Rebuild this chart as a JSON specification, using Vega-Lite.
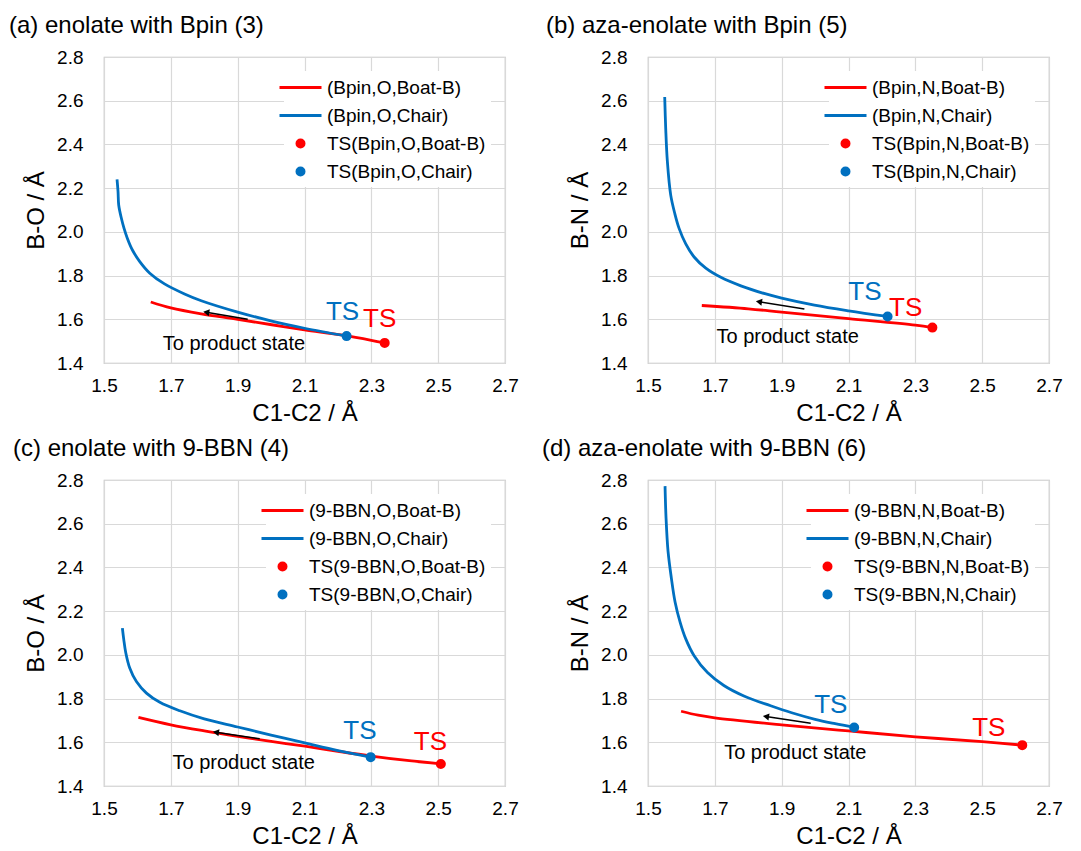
{
  "$schema": "https://vega.github.io/schema/vega-lite/v6.json",
  "background": "white",
  "padding": {"left": 8, "top": 13, "right": 5, "bottom": 5},
  "config": {
    "font": "Liberation Sans",
    "view": {"stroke": "#bfbfbf", "strokeWidth": 1.2},
    "axis": {"grid": true, "gridColor": "#d9d9d9", "gridWidth": 1.2, "domain": false, "ticks": false, "labelFont": "Liberation Sans", "labelFontSize": 19, "labelColor": "#000000", "titleFont": "Liberation Sans", "titleFontSize": 24, "titleFontWeight": "normal", "titleColor": "#000000", "labelFlush": false, "labelOverlap": false, "labelBound": false},
    "axisX": {"labelPadding": 13, "titlePadding": 6},
    "axisY": {"labelPadding": 21, "titlePadding": 8},
    "legend": {"orient": "top-right", "offset": 14, "padding": 5, "fillColor": "white", "labelFont": "Liberation Sans", "labelFontSize": 19, "labelColor": "#000000", "symbolSize": 400, "symbolStrokeWidth": 3, "labelOffset": 15, "rowPadding": 6, "symbolOpacity": 1, "labelLimit": 400},
    "title": {"font": "Liberation Sans", "fontSize": 24, "fontWeight": "normal", "color": "#000000", "anchor": "start", "frame": "group", "offset": 10}
  },
  "datasets": {
    "a_c": [
      {"series": "(Bpin,O,Boat-B)", "x": 1.640, "y": 1.679},
      {"series": "(Bpin,O,Boat-B)", "x": 1.700, "y": 1.652},
      {"series": "(Bpin,O,Boat-B)", "x": 1.791, "y": 1.625},
      {"series": "(Bpin,O,Boat-B)", "x": 1.900, "y": 1.600},
      {"series": "(Bpin,O,Boat-B)", "x": 2.002, "y": 1.575},
      {"series": "(Bpin,O,Boat-B)", "x": 2.100, "y": 1.552},
      {"series": "(Bpin,O,Boat-B)", "x": 2.214, "y": 1.527},
      {"series": "(Bpin,O,Boat-B)", "x": 2.300, "y": 1.504},
      {"series": "(Bpin,O,Boat-B)", "x": 2.340, "y": 1.492},
      {"series": "(Bpin,O,Chair)", "x": 1.539, "y": 2.240},
      {"series": "(Bpin,O,Chair)", "x": 1.542, "y": 2.184},
      {"series": "(Bpin,O,Chair)", "x": 1.544, "y": 2.123},
      {"series": "(Bpin,O,Chair)", "x": 1.552, "y": 2.062},
      {"series": "(Bpin,O,Chair)", "x": 1.560, "y": 2.016},
      {"series": "(Bpin,O,Chair)", "x": 1.570, "y": 1.970},
      {"series": "(Bpin,O,Chair)", "x": 1.585, "y": 1.917},
      {"series": "(Bpin,O,Chair)", "x": 1.607, "y": 1.864},
      {"series": "(Bpin,O,Chair)", "x": 1.637, "y": 1.811},
      {"series": "(Bpin,O,Chair)", "x": 1.681, "y": 1.762},
      {"series": "(Bpin,O,Chair)", "x": 1.741, "y": 1.716},
      {"series": "(Bpin,O,Chair)", "x": 1.791, "y": 1.685},
      {"series": "(Bpin,O,Chair)", "x": 1.900, "y": 1.633},
      {"series": "(Bpin,O,Chair)", "x": 2.002, "y": 1.592},
      {"series": "(Bpin,O,Chair)", "x": 2.100, "y": 1.559},
      {"series": "(Bpin,O,Chair)", "x": 2.226, "y": 1.523}
    ],
    "a_ts": [
      {"series": "TS(Bpin,O,Boat-B)", "x": 2.340, "y": 1.492},
      {"series": "TS(Bpin,O,Chair)", "x": 2.226, "y": 1.523}
    ],
    "a_lab": [
      {"kind": "boat", "x": 2.325, "y": 1.600},
      {"kind": "chair", "x": 2.214, "y": 1.632}
    ],
    "a_note": [{"label": "To product state", "x": 1.676, "y": 1.486}],
    "a_arr": [{"x": 1.806, "y": 1.632, "x2": 1.930, "y2": 1.600}],
    "b_c": [
      {"series": "(Bpin,N,Boat-B)", "x": 1.661, "y": 1.663},
      {"series": "(Bpin,N,Boat-B)", "x": 1.800, "y": 1.648},
      {"series": "(Bpin,N,Boat-B)", "x": 1.900, "y": 1.633},
      {"series": "(Bpin,N,Boat-B)", "x": 2.100, "y": 1.603},
      {"series": "(Bpin,N,Boat-B)", "x": 2.300, "y": 1.573},
      {"series": "(Bpin,N,Boat-B)", "x": 2.351, "y": 1.562},
      {"series": "(Bpin,N,Chair)", "x": 1.550, "y": 2.617},
      {"series": "(Bpin,N,Chair)", "x": 1.553, "y": 2.473},
      {"series": "(Bpin,N,Chair)", "x": 1.558, "y": 2.321},
      {"series": "(Bpin,N,Chair)", "x": 1.568, "y": 2.168},
      {"series": "(Bpin,N,Chair)", "x": 1.580, "y": 2.085},
      {"series": "(Bpin,N,Chair)", "x": 1.593, "y": 2.016},
      {"series": "(Bpin,N,Chair)", "x": 1.613, "y": 1.945},
      {"series": "(Bpin,N,Chair)", "x": 1.638, "y": 1.885},
      {"series": "(Bpin,N,Chair)", "x": 1.673, "y": 1.834},
      {"series": "(Bpin,N,Chair)", "x": 1.718, "y": 1.792},
      {"series": "(Bpin,N,Chair)", "x": 1.778, "y": 1.753},
      {"series": "(Bpin,N,Chair)", "x": 1.850, "y": 1.717},
      {"series": "(Bpin,N,Chair)", "x": 1.900, "y": 1.697},
      {"series": "(Bpin,N,Chair)", "x": 1.998, "y": 1.665},
      {"series": "(Bpin,N,Chair)", "x": 2.100, "y": 1.639},
      {"series": "(Bpin,N,Chair)", "x": 2.217, "y": 1.613}
    ],
    "b_ts": [
      {"series": "TS(Bpin,N,Boat-B)", "x": 2.351, "y": 1.562},
      {"series": "TS(Bpin,N,Chair)", "x": 2.217, "y": 1.613}
    ],
    "b_lab": [
      {"kind": "boat", "x": 2.271, "y": 1.652},
      {"kind": "chair", "x": 2.149, "y": 1.727}
    ],
    "b_note": [{"label": "To product state", "x": 1.705, "y": 1.518}],
    "b_arr": [{"x": 1.832, "y": 1.680, "x2": 1.968, "y2": 1.647}],
    "c_c": [
      {"series": "(9-BBN,O,Boat-B)", "x": 1.603, "y": 1.714},
      {"series": "(9-BBN,O,Boat-B)", "x": 1.700, "y": 1.680},
      {"series": "(9-BBN,O,Boat-B)", "x": 1.800, "y": 1.652},
      {"series": "(9-BBN,O,Boat-B)", "x": 1.900, "y": 1.627},
      {"series": "(9-BBN,O,Boat-B)", "x": 2.000, "y": 1.604},
      {"series": "(9-BBN,O,Boat-B)", "x": 2.101, "y": 1.582},
      {"series": "(9-BBN,O,Boat-B)", "x": 2.200, "y": 1.559},
      {"series": "(9-BBN,O,Boat-B)", "x": 2.300, "y": 1.537},
      {"series": "(9-BBN,O,Boat-B)", "x": 2.400, "y": 1.518},
      {"series": "(9-BBN,O,Boat-B)", "x": 2.508, "y": 1.501},
      {"series": "(9-BBN,O,Chair)", "x": 1.555, "y": 2.122},
      {"series": "(9-BBN,O,Chair)", "x": 1.559, "y": 2.072},
      {"series": "(9-BBN,O,Chair)", "x": 1.565, "y": 2.011},
      {"series": "(9-BBN,O,Chair)", "x": 1.577, "y": 1.940},
      {"series": "(9-BBN,O,Chair)", "x": 1.597, "y": 1.878},
      {"series": "(9-BBN,O,Chair)", "x": 1.627, "y": 1.825},
      {"series": "(9-BBN,O,Chair)", "x": 1.667, "y": 1.783},
      {"series": "(9-BBN,O,Chair)", "x": 1.727, "y": 1.744},
      {"series": "(9-BBN,O,Chair)", "x": 1.800, "y": 1.707},
      {"series": "(9-BBN,O,Chair)", "x": 1.900, "y": 1.670},
      {"series": "(9-BBN,O,Chair)", "x": 2.000, "y": 1.633},
      {"series": "(9-BBN,O,Chair)", "x": 2.101, "y": 1.597},
      {"series": "(9-BBN,O,Chair)", "x": 2.200, "y": 1.562},
      {"series": "(9-BBN,O,Chair)", "x": 2.298, "y": 1.532}
    ],
    "c_ts": [
      {"series": "TS(9-BBN,O,Boat-B)", "x": 2.508, "y": 1.501},
      {"series": "TS(9-BBN,O,Chair)", "x": 2.298, "y": 1.532}
    ],
    "c_lab": [
      {"kind": "boat", "x": 2.477, "y": 1.602},
      {"kind": "chair", "x": 2.266, "y": 1.650}
    ],
    "c_note": [{"label": "To product state", "x": 1.705, "y": 1.503}],
    "c_arr": [{"x": 1.835, "y": 1.646, "x2": 1.966, "y2": 1.616}],
    "d_c": [
      {"series": "(9-BBN,N,Boat-B)", "x": 1.599, "y": 1.742},
      {"series": "(9-BBN,N,Boat-B)", "x": 1.650, "y": 1.724},
      {"series": "(9-BBN,N,Boat-B)", "x": 1.700, "y": 1.712},
      {"series": "(9-BBN,N,Boat-B)", "x": 1.900, "y": 1.680},
      {"series": "(9-BBN,N,Boat-B)", "x": 2.100, "y": 1.652},
      {"series": "(9-BBN,N,Boat-B)", "x": 2.300, "y": 1.625},
      {"series": "(9-BBN,N,Boat-B)", "x": 2.500, "y": 1.603},
      {"series": "(9-BBN,N,Boat-B)", "x": 2.620, "y": 1.587},
      {"series": "(9-BBN,N,Chair)", "x": 1.551, "y": 2.772},
      {"series": "(9-BBN,N,Chair)", "x": 1.554, "y": 2.626},
      {"series": "(9-BBN,N,Chair)", "x": 1.560, "y": 2.473},
      {"series": "(9-BBN,N,Chair)", "x": 1.570, "y": 2.350},
      {"series": "(9-BBN,N,Chair)", "x": 1.581, "y": 2.242},
      {"series": "(9-BBN,N,Chair)", "x": 1.596, "y": 2.150},
      {"series": "(9-BBN,N,Chair)", "x": 1.613, "y": 2.073},
      {"series": "(9-BBN,N,Chair)", "x": 1.638, "y": 1.996},
      {"series": "(9-BBN,N,Chair)", "x": 1.678, "y": 1.919},
      {"series": "(9-BBN,N,Chair)", "x": 1.727, "y": 1.860},
      {"series": "(9-BBN,N,Chair)", "x": 1.787, "y": 1.812},
      {"series": "(9-BBN,N,Chair)", "x": 1.867, "y": 1.767},
      {"series": "(9-BBN,N,Chair)", "x": 1.930, "y": 1.735},
      {"series": "(9-BBN,N,Chair)", "x": 2.000, "y": 1.705},
      {"series": "(9-BBN,N,Chair)", "x": 2.060, "y": 1.685},
      {"series": "(9-BBN,N,Chair)", "x": 2.117, "y": 1.668}
    ],
    "d_ts": [
      {"series": "TS(9-BBN,N,Boat-B)", "x": 2.620, "y": 1.587},
      {"series": "TS(9-BBN,N,Chair)", "x": 2.117, "y": 1.668}
    ],
    "d_lab": [
      {"kind": "boat", "x": 2.520, "y": 1.667},
      {"kind": "chair", "x": 2.047, "y": 1.770}
    ],
    "d_note": [{"label": "To product state", "x": 1.728, "y": 1.553}],
    "d_arr": [{"x": 1.853, "y": 1.718, "x2": 1.987, "y2": 1.687}]
  },
  "columns": 2,
  "bounds": "flush",
  "spacing": {"row": 117, "column": 143},
  "resolve": {
    "scale": {"x": "independent", "y": "independent", "fill": "independent", "stroke": "independent", "shape": "independent"},
    "legend": {"fill": "independent", "stroke": "independent", "shape": "independent"}
  },
  "concat": [
    {
      "width": 401, "height": 306,
      "title": {"text": "(a) enolate with Bpin (3)", "dx": -95},
      "encoding": {
        "x": {"field": "x", "type": "quantitative", "scale": {"domain": [1.5, 2.7], "nice": false, "zero": false}, "axis": {"title": "C1-C2 / Å", "values": [1.5, 1.7, 1.9, 2.1, 2.3, 2.5, 2.7], "format": ".1f"}},
        "y": {"field": "y", "type": "quantitative", "scale": {"domain": [1.4, 2.8], "nice": false, "zero": false}, "axis": {"title": "B-O / Å", "values": [1.4, 1.6, 1.8, 2.0, 2.2, 2.4, 2.6, 2.8], "format": ".1f"}}
      },
      "layer": [
        {"data": {"name": "a_c"}, "mark": {"type": "line", "strokeWidth": 2.8, "interpolate": "catmull-rom"},
         "encoding": {"stroke": {"field": "series", "type": "nominal", "scale": {"domain": ["(Bpin,O,Boat-B)", "(Bpin,O,Chair)", "TS(Bpin,O,Boat-B)", "TS(Bpin,O,Chair)"], "range": ["#ff0000", "#0070c0", "#ff0000", "#0070c0"]}, "legend": {"title": null}}, "order": {"value": null}}},
        {"data": {"name": "a_arr"}, "mark": {"type": "rule", "color": "black", "strokeWidth": 1.5}, "encoding": {"x2": {"field": "x2"}, "y2": {"field": "y2"}}},
        {"data": {"name": "a_arr"}, "mark": {"type": "point", "shape": "triangle-left", "filled": true, "color": "black", "opacity": 1, "size": 50, "angle": 9}, "encoding": {}},
        {"data": {"name": "a_ts"}, "mark": {"type": "point", "filled": true, "opacity": 1, "size": 400, "strokeWidth": 3},
         "encoding": {
           "fill": {"field": "series", "type": "nominal", "scale": {"domain": ["(Bpin,O,Boat-B)", "(Bpin,O,Chair)", "TS(Bpin,O,Boat-B)", "TS(Bpin,O,Chair)"], "range": ["#ff0000", "#0070c0", "#ff0000", "#0070c0"]}, "legend": {"title": null}},
           "stroke": {"field": "series", "type": "nominal", "legend": {"title": null}},
           "shape": {"field": "series", "type": "nominal", "scale": {"domain": ["(Bpin,O,Boat-B)", "(Bpin,O,Chair)", "TS(Bpin,O,Boat-B)", "TS(Bpin,O,Chair)"], "range": ["M-2.1,0L2.1,0", "M-2.1,0L2.1,0", "M-0.35,0A0.35,0.35,0,1,0,0.35,0A0.35,0.35,0,1,0,-0.35,0Z", "M-0.35,0A0.35,0.35,0,1,0,0.35,0A0.35,0.35,0,1,0,-0.35,0Z"]}, "legend": {"title": null}}
         }},
        {"data": {"name": "a_lab"}, "transform": [{"filter": "datum.kind == 'chair'"}], "mark": {"type": "text", "fontSize": 26, "color": "#0070c0", "align": "center", "baseline": "middle"}, "encoding": {"text": {"value": "TS"}}},
        {"data": {"name": "a_lab"}, "transform": [{"filter": "datum.kind == 'boat'"}], "mark": {"type": "text", "fontSize": 26, "color": "#ff0000", "align": "center", "baseline": "middle"}, "encoding": {"text": {"value": "TS"}}},
        {"data": {"name": "a_note"}, "mark": {"type": "text", "fontSize": 20, "color": "black", "align": "left", "baseline": "middle"}, "encoding": {"text": {"field": "label"}}}
      ]
    },
    {
      "width": 401, "height": 306,
      "title": {"text": "(b) aza-enolate with Bpin (5)", "dx": -102},
      "encoding": {
        "x": {"field": "x", "type": "quantitative", "scale": {"domain": [1.5, 2.7], "nice": false, "zero": false}, "axis": {"title": "C1-C2 / Å", "values": [1.5, 1.7, 1.9, 2.1, 2.3, 2.5, 2.7], "format": ".1f"}},
        "y": {"field": "y", "type": "quantitative", "scale": {"domain": [1.4, 2.8], "nice": false, "zero": false}, "axis": {"title": "B-N / Å", "values": [1.4, 1.6, 1.8, 2.0, 2.2, 2.4, 2.6, 2.8], "format": ".1f"}}
      },
      "layer": [
        {"data": {"name": "b_c"}, "mark": {"type": "line", "strokeWidth": 2.8, "interpolate": "catmull-rom"},
         "encoding": {"stroke": {"field": "series", "type": "nominal", "scale": {"domain": ["(Bpin,N,Boat-B)", "(Bpin,N,Chair)", "TS(Bpin,N,Boat-B)", "TS(Bpin,N,Chair)"], "range": ["#ff0000", "#0070c0", "#ff0000", "#0070c0"]}, "legend": {"title": null}}, "order": {"value": null}}},
        {"data": {"name": "b_arr"}, "mark": {"type": "rule", "color": "black", "strokeWidth": 1.5}, "encoding": {"x2": {"field": "x2"}, "y2": {"field": "y2"}}},
        {"data": {"name": "b_arr"}, "mark": {"type": "point", "shape": "triangle-left", "filled": true, "color": "black", "opacity": 1, "size": 50, "angle": 9}, "encoding": {}},
        {"data": {"name": "b_ts"}, "mark": {"type": "point", "filled": true, "opacity": 1, "size": 400, "strokeWidth": 3},
         "encoding": {
           "fill": {"field": "series", "type": "nominal", "scale": {"domain": ["(Bpin,N,Boat-B)", "(Bpin,N,Chair)", "TS(Bpin,N,Boat-B)", "TS(Bpin,N,Chair)"], "range": ["#ff0000", "#0070c0", "#ff0000", "#0070c0"]}, "legend": {"title": null}},
           "stroke": {"field": "series", "type": "nominal", "legend": {"title": null}},
           "shape": {"field": "series", "type": "nominal", "scale": {"domain": ["(Bpin,N,Boat-B)", "(Bpin,N,Chair)", "TS(Bpin,N,Boat-B)", "TS(Bpin,N,Chair)"], "range": ["M-2.1,0L2.1,0", "M-2.1,0L2.1,0", "M-0.35,0A0.35,0.35,0,1,0,0.35,0A0.35,0.35,0,1,0,-0.35,0Z", "M-0.35,0A0.35,0.35,0,1,0,0.35,0A0.35,0.35,0,1,0,-0.35,0Z"]}, "legend": {"title": null}}
         }},
        {"data": {"name": "b_lab"}, "transform": [{"filter": "datum.kind == 'chair'"}], "mark": {"type": "text", "fontSize": 26, "color": "#0070c0", "align": "center", "baseline": "middle"}, "encoding": {"text": {"value": "TS"}}},
        {"data": {"name": "b_lab"}, "transform": [{"filter": "datum.kind == 'boat'"}], "mark": {"type": "text", "fontSize": 26, "color": "#ff0000", "align": "center", "baseline": "middle"}, "encoding": {"text": {"value": "TS"}}},
        {"data": {"name": "b_note"}, "mark": {"type": "text", "fontSize": 20, "color": "black", "align": "left", "baseline": "middle"}, "encoding": {"text": {"field": "label"}}}
      ]
    },
    {
      "width": 401, "height": 306,
      "title": {"text": "(c) enolate with 9-BBN (4)", "dx": -91},
      "encoding": {
        "x": {"field": "x", "type": "quantitative", "scale": {"domain": [1.5, 2.7], "nice": false, "zero": false}, "axis": {"title": "C1-C2 / Å", "values": [1.5, 1.7, 1.9, 2.1, 2.3, 2.5, 2.7], "format": ".1f"}},
        "y": {"field": "y", "type": "quantitative", "scale": {"domain": [1.4, 2.8], "nice": false, "zero": false}, "axis": {"title": "B-O / Å", "values": [1.4, 1.6, 1.8, 2.0, 2.2, 2.4, 2.6, 2.8], "format": ".1f"}}
      },
      "layer": [
        {"data": {"name": "c_c"}, "mark": {"type": "line", "strokeWidth": 2.8, "interpolate": "catmull-rom"},
         "encoding": {"stroke": {"field": "series", "type": "nominal", "scale": {"domain": ["(9-BBN,O,Boat-B)", "(9-BBN,O,Chair)", "TS(9-BBN,O,Boat-B)", "TS(9-BBN,O,Chair)"], "range": ["#ff0000", "#0070c0", "#ff0000", "#0070c0"]}, "legend": {"title": null}}, "order": {"value": null}}},
        {"data": {"name": "c_arr"}, "mark": {"type": "rule", "color": "black", "strokeWidth": 1.5}, "encoding": {"x2": {"field": "x2"}, "y2": {"field": "y2"}}},
        {"data": {"name": "c_arr"}, "mark": {"type": "point", "shape": "triangle-left", "filled": true, "color": "black", "opacity": 1, "size": 50, "angle": 9}, "encoding": {}},
        {"data": {"name": "c_ts"}, "mark": {"type": "point", "filled": true, "opacity": 1, "size": 400, "strokeWidth": 3},
         "encoding": {
           "fill": {"field": "series", "type": "nominal", "scale": {"domain": ["(9-BBN,O,Boat-B)", "(9-BBN,O,Chair)", "TS(9-BBN,O,Boat-B)", "TS(9-BBN,O,Chair)"], "range": ["#ff0000", "#0070c0", "#ff0000", "#0070c0"]}, "legend": {"title": null}},
           "stroke": {"field": "series", "type": "nominal", "legend": {"title": null}},
           "shape": {"field": "series", "type": "nominal", "scale": {"domain": ["(9-BBN,O,Boat-B)", "(9-BBN,O,Chair)", "TS(9-BBN,O,Boat-B)", "TS(9-BBN,O,Chair)"], "range": ["M-2.1,0L2.1,0", "M-2.1,0L2.1,0", "M-0.35,0A0.35,0.35,0,1,0,0.35,0A0.35,0.35,0,1,0,-0.35,0Z", "M-0.35,0A0.35,0.35,0,1,0,0.35,0A0.35,0.35,0,1,0,-0.35,0Z"]}, "legend": {"title": null}}
         }},
        {"data": {"name": "c_lab"}, "transform": [{"filter": "datum.kind == 'chair'"}], "mark": {"type": "text", "fontSize": 26, "color": "#0070c0", "align": "center", "baseline": "middle"}, "encoding": {"text": {"value": "TS"}}},
        {"data": {"name": "c_lab"}, "transform": [{"filter": "datum.kind == 'boat'"}], "mark": {"type": "text", "fontSize": 26, "color": "#ff0000", "align": "center", "baseline": "middle"}, "encoding": {"text": {"value": "TS"}}},
        {"data": {"name": "c_note"}, "mark": {"type": "text", "fontSize": 20, "color": "black", "align": "left", "baseline": "middle"}, "encoding": {"text": {"field": "label"}}}
      ]
    },
    {
      "width": 401, "height": 306,
      "title": {"text": "(d) aza-enolate with 9-BBN (6)", "dx": -106},
      "encoding": {
        "x": {"field": "x", "type": "quantitative", "scale": {"domain": [1.5, 2.7], "nice": false, "zero": false}, "axis": {"title": "C1-C2 / Å", "values": [1.5, 1.7, 1.9, 2.1, 2.3, 2.5, 2.7], "format": ".1f"}},
        "y": {"field": "y", "type": "quantitative", "scale": {"domain": [1.4, 2.8], "nice": false, "zero": false}, "axis": {"title": "B-N / Å", "values": [1.4, 1.6, 1.8, 2.0, 2.2, 2.4, 2.6, 2.8], "format": ".1f"}}
      },
      "layer": [
        {"data": {"name": "d_c"}, "mark": {"type": "line", "strokeWidth": 2.8, "interpolate": "catmull-rom"},
         "encoding": {"stroke": {"field": "series", "type": "nominal", "scale": {"domain": ["(9-BBN,N,Boat-B)", "(9-BBN,N,Chair)", "TS(9-BBN,N,Boat-B)", "TS(9-BBN,N,Chair)"], "range": ["#ff0000", "#0070c0", "#ff0000", "#0070c0"]}, "legend": {"title": null}}, "order": {"value": null}}},
        {"data": {"name": "d_arr"}, "mark": {"type": "rule", "color": "black", "strokeWidth": 1.5}, "encoding": {"x2": {"field": "x2"}, "y2": {"field": "y2"}}},
        {"data": {"name": "d_arr"}, "mark": {"type": "point", "shape": "triangle-left", "filled": true, "color": "black", "opacity": 1, "size": 50, "angle": 9}, "encoding": {}},
        {"data": {"name": "d_ts"}, "mark": {"type": "point", "filled": true, "opacity": 1, "size": 400, "strokeWidth": 3},
         "encoding": {
           "fill": {"field": "series", "type": "nominal", "scale": {"domain": ["(9-BBN,N,Boat-B)", "(9-BBN,N,Chair)", "TS(9-BBN,N,Boat-B)", "TS(9-BBN,N,Chair)"], "range": ["#ff0000", "#0070c0", "#ff0000", "#0070c0"]}, "legend": {"title": null}},
           "stroke": {"field": "series", "type": "nominal", "legend": {"title": null}},
           "shape": {"field": "series", "type": "nominal", "scale": {"domain": ["(9-BBN,N,Boat-B)", "(9-BBN,N,Chair)", "TS(9-BBN,N,Boat-B)", "TS(9-BBN,N,Chair)"], "range": ["M-2.1,0L2.1,0", "M-2.1,0L2.1,0", "M-0.35,0A0.35,0.35,0,1,0,0.35,0A0.35,0.35,0,1,0,-0.35,0Z", "M-0.35,0A0.35,0.35,0,1,0,0.35,0A0.35,0.35,0,1,0,-0.35,0Z"]}, "legend": {"title": null}}
         }},
        {"data": {"name": "d_lab"}, "transform": [{"filter": "datum.kind == 'chair'"}], "mark": {"type": "text", "fontSize": 26, "color": "#0070c0", "align": "center", "baseline": "middle"}, "encoding": {"text": {"value": "TS"}}},
        {"data": {"name": "d_lab"}, "transform": [{"filter": "datum.kind == 'boat'"}], "mark": {"type": "text", "fontSize": 26, "color": "#ff0000", "align": "center", "baseline": "middle"}, "encoding": {"text": {"value": "TS"}}},
        {"data": {"name": "d_note"}, "mark": {"type": "text", "fontSize": 20, "color": "black", "align": "left", "baseline": "middle"}, "encoding": {"text": {"field": "label"}}}
      ]
    }
  ]
}
